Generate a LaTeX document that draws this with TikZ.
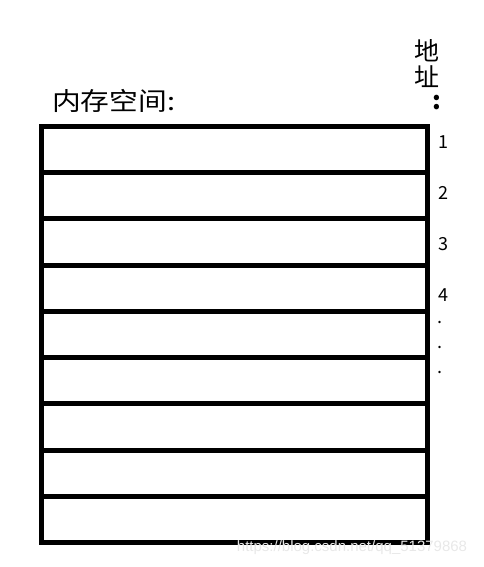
\documentclass[tikz,border=0pt]{standalone}
\usepackage{fontspec}
\setmainfont{Noto Sans CJK SC}
\newfontfamily\markfont{Liberation Sans}
\usetikzlibrary{positioning}
\tikzset{cellbox/.style = {draw, line width=5pt, minimum width=386pt,
                           minimum height=46.2pt, inner sep=0pt}}
\tikzset{addr/.style = {font=\fontsize{18}{18}\selectfont, inner sep=0pt}}
\tikzset{head/.style = {font=\fontsize{25}{25}\selectfont, inner sep=0pt}}

\begin{document}
\begin{tikzpicture}[x=1pt, y=-1pt]
    \useasboundingbox (0, 0) rectangle (483, 567);

    \foreach \i in {0, ..., 8}
        \node [cellbox] (cell\i) at (234.5, 149.6 + 46.22 * \i) {};

    \node [head, anchor=west, xscale=1.15] (space) at (52, 101) {内存空间:};

    \node [head] (di) at (427, 51) {地};
    \node [head] (zhi) at (427, 77) {址};
    \node [head, font=\bfseries\fontsize{25}{25}\selectfont] (colon) at (437, 103) {:};

    \foreach \n [count=\i from 0] in {1, 2, 3, 4}
        \node [addr] (num\n) at (443, 142 + 51 * \i) {\n};
    \foreach \j in {0, 1, 2}
        \node [addr] (dot\j) at (440, 322 + 25 * \j) {.};

    \node [font=\markfont\fontsize{15}{15}\selectfont, text=black!9, inner sep=0pt] (mark) at (352, 548) {https://blog.csdn.net/qq\_51379868};
  \end{tikzpicture}
\end{document}
